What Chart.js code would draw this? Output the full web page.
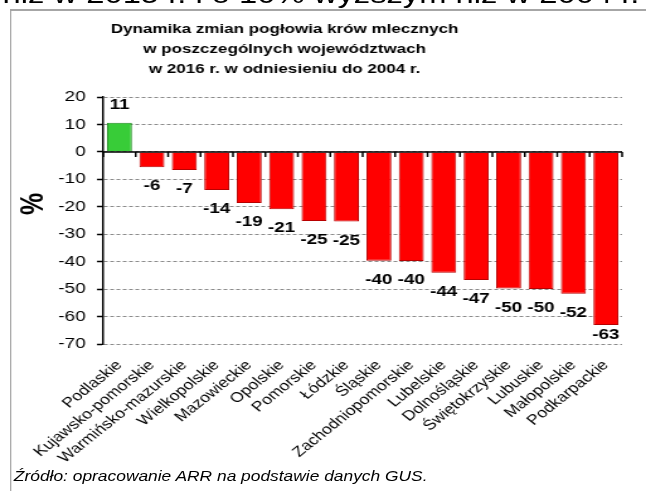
<!DOCTYPE html>
<html lang="pl">
<head>
<meta charset="utf-8">
<title>Dynamika zmian pogłowia krów mlecznych</title>
<script src="https://cdn.jsdelivr.net/npm/chart.js@4/dist/chart.umd.min.js"></script>
<style>
  body { margin: 0; background: #fff; font-family: "Liberation Sans", Arial, sans-serif; }
  #okno { position: relative; width: 646px; height: 491px; overflow: hidden; }
  /* oryginał jest rozciągnięty w poziomie, więc całość rysujemy węziej i rozciągamy */
  #wrap { position: absolute; left: 0; top: 0; width: 513px; height: 491px;
          transform: scaleX(1.2593); transform-origin: 0 0; }
  #naglowek { position: absolute; left: 2px; top: -21px; font-size: 26px; white-space: nowrap; color: #000; }
  #ramka { position: absolute; left: 8px; top: 9px; width: 600px; height: 520px;
           border-left: 1.6px solid #a6a6a6; border-top: 2px solid #a6a6a6; }
  #wykres { position: absolute; left: 0; top: 0; }
  #zrodlo { position: absolute; left: 11px; top: 469px; font-size: 13.8px; font-style: italic; white-space: nowrap; }
</style>
</head>
<body>
<div id="okno">
<div id="wrap">
  <div id="naglowek">niż w 2015 r. i o 10% wyższym niż w 2004 r.</div>
  <div id="ramka"></div>
  <canvas id="wykres" width="513" height="491"></canvas>
  <div id="zrodlo">Źródło: opracowanie ARR na podstawie danych GUS.</div>
</div>
</div>
<script>
// Województwa
const wojewodztwa = ['Podlaskie', 'Kujawsko-pomorskie', 'Warmińsko-mazurskie', 'Wielkopolskie',
  'Mazowieckie', 'Opolskie', 'Pomorskie', 'Łódzkie', 'Śląskie', 'Zachodniopomorskie',
  'Lubelskie', 'Dolnośląskie', 'Świętokrzyskie', 'Lubuskie', 'Małopolskie', 'Podkarpackie'];

// Zmiana pogłowia 2016 vs 2004, %
const zmiana = [10.6, -5.6, -6.6, -13.9, -18.6, -20.9, -25.2, -25.4,
  -39.7, -39.8, -44.0, -46.7, -49.8, -50.0, -51.7, -63.1];

// Tytuł wykresu
const tytul = ['Dynamika zmian pogłowia krów mlecznych',
  'w poszczególnych województwach',
  'w 2016 r. w odniesieniu do 2004 r.'];

const osY = { min: -70, max: 20, krok: 10 };

const czcionka = '"Liberation Sans", Arial, sans-serif';

// Tytuł, oś zero, etykiety wartości
const dodatki = {
  id: 'dodatki',
  afterDraw(chart) {
    const ctx = chart.ctx;
    const area = chart.chartArea;
    const y = chart.scales.y;
    const meta = chart.getDatasetMeta(0);

    ctx.save();
    // tytuł
    ctx.fillStyle = '#000';
    ctx.font = 'bold 13.5px ' + czcionka;
    ctx.textAlign = 'center';
    ctx.textBaseline = 'middle';
    tytul.forEach((t, i) => ctx.fillText(t, 226, 29 + i * 20));

    // znak % przy osi
    ctx.save();
    ctx.translate(27, 204);
    ctx.rotate(-Math.PI / 2);
    ctx.font = 'bold 25px ' + czcionka;
    ctx.fillText('%', 0, 0);
    ctx.restore();

    // linia zero z kreskami
    const y0 = y.getPixelForValue(0);
    const szer = (area.right - area.left) / wojewodztwa.length;
    ctx.strokeStyle = '#000';
    ctx.lineWidth = 1.5;
    ctx.beginPath();
    ctx.moveTo(area.left, y0);
    ctx.lineTo(area.right, y0);
    for (let i = 0; i <= wojewodztwa.length; i++) {
      const x = area.left + i * szer;
      ctx.moveTo(x, y0);
      ctx.lineTo(x, y0 + 5);
    }
    ctx.stroke();

    // etykiety wartości
    ctx.font = 'bold 15px ' + czcionka;
    meta.data.forEach((bar, i) => {
      const v = zmiana[i];
      let ty;
      if (v >= 0) {
        ty = bar.y - 18;
      } else {
        ty = Math.min(bar.y + 19, area.bottom - 9);
      }
      ctx.fillText(String(Math.round(v)), bar.x, ty);
    });
    ctx.restore();
  }
};

const ctx = document.getElementById('wykres').getContext('2d');
const wykres = new Chart(ctx, {
  type: 'bar',
  data: {
    labels: wojewodztwa,
    datasets: [{
      data: zmiana,
      backgroundColor: zmiana.map(v => v >= 0 ? '#38cc38' : '#ff0000'),
      borderColor: zmiana.map(v => v >= 0 ? '#1f8a1f' : '#b80000'),
      borderWidth: 1,
      barPercentage: 0.77,
      categoryPercentage: 1
    }]
  },
  options: {
    responsive: false,
    animation: false,
    devicePixelRatio: 1,
    layout: { padding: { left: 8, right: 19, top: 97, bottom: 0 } },
    plugins: {
      legend: { display: false },
      title: { display: false },
      tooltip: { enabled: false }
    },
    scales: {
      x: {
        grid: { display: false, drawTicks: false },
        border: { display: false },
        ticks: {
          color: '#000',
          font: { family: czcionka, size: 14 },
          minRotation: 45,
          maxRotation: 45,
          autoSkip: false,
          padding: 13
        },
        afterFit(scale) { scale.height = 147; }
      },
      y: {
        min: osY.min,
        max: osY.max,
        grid: {
          color: '#8c8c8c',
          lineWidth: 1,
          tickColor: '#000',
          tickLength: 5,
          tickWidth: 1.5,
          tickBorderDash: []
        },
        border: { display: true, color: '#000', width: 1.5, dash: [3, 2] },
        ticks: {
          stepSize: osY.krok,
          color: '#000',
          font: { family: czcionka, size: 15 },
          padding: 9
        },
        afterFit(scale) { scale.width = 74; }
      }
    }
  },
  plugins: [dodatki]
});
</script>
</body>
</html>
